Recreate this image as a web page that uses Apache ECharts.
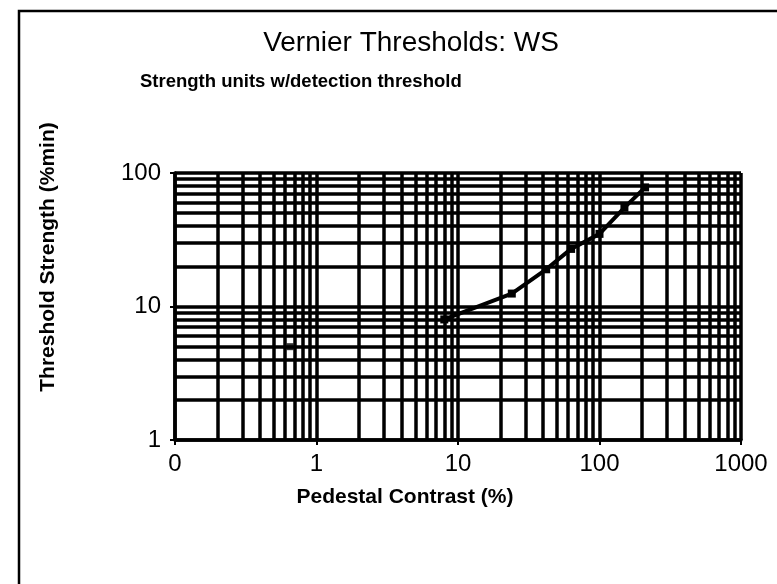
<!DOCTYPE html>
<html>
<head>
<meta charset="utf-8">
<script src="https://cdn.jsdelivr.net/npm/echarts@6/dist/echarts.min.js"></script>
<style>
    html, body { margin: 0; padding: 0; background: #fff; }
    #chart { width: 777px; height: 584px; }
</style>
</head>
<body>
<div id="chart"></div>
<script>
    // isolated low-contrast point
    var soloContrast = [0.65];
    var soloStrength = [5];
    // connected threshold curve
    var contrast = [8, 24, 42, 63, 100, 150, 210];
    var strength = [8, 12.5, 19, 27, 35, 55, 78];
    // minor grid positions (2..9 per decade)
    var xMinor = [0.2, 0.3, 0.4, 0.5, 0.6, 0.7, 0.8, 0.9,
        2, 3, 4, 5, 6, 7, 8, 9,
        20, 30, 40, 50, 60, 70, 80, 90,
        200, 300, 400, 500, 600, 700, 800, 900];
    var yMinor = [2, 3, 4, 5, 6, 7, 8, 9, 20, 30, 40, 50, 60, 70, 80, 90];

    var font = 'Liberation Sans, Arial, sans-serif';
    var gridLine = { color: '#000', width: 3.5, type: 'solid' };

    var minorLines = xMinor.map(function (v) { return { xAxis: v }; })
        .concat(yMinor.map(function (v) { return { yAxis: v }; }));

    var chart = echarts.init(document.getElementById('chart'), null, { renderer: 'canvas' });
    chart.setOption({
        backgroundColor: '#fff',
        animation: false,
        graphic: [{
            type: 'rect',
            shape: { x: 19, y: 11, width: 800, height: 620 },
            style: { fill: 'none', stroke: '#000', lineWidth: 2.5 }
        }, {
            // y axis name, sits above the plot's middle like the original
            type: 'text',
            x: 48, y: 257,
            rotation: Math.PI / 2,
            style: {
                text: 'Threshold Strength (%min)',
                fill: '#000',
                font: 'bold 21px ' + font,
                textAlign: 'center',
                textVerticalAlign: 'middle'
            }
        }, {
            type: 'text',
            x: 405, y: 497,
            style: {
                text: 'Pedestal Contrast (%)',
                fill: '#000',
                font: 'bold 21px ' + font,
                textAlign: 'center',
                textVerticalAlign: 'middle'
            }
        }],
        title: [{
            text: 'Vernier Thresholds: WS',
            left: 406, top: 24, textAlign: 'center',
            textStyle: { fontFamily: font, fontSize: 28, fontWeight: 'normal', color: '#000' }
        }, {
            text: 'Strength units w/detection threshold',
            left: 135, top: 67,
            textStyle: { fontFamily: font, fontSize: 18.5, fontWeight: 'bold', color: '#000' }
        }],
        grid: { left: 175, right: 36, top: 173, bottom: 144 },
        xAxis: {
            type: 'log', logBase: 10, min: 0.1, max: 1000,
            axisLine: { lineStyle: { color: '#000', width: 3.5 } },
            axisTick: { show: true, length: 5, lineStyle: { color: '#000', width: 2 } },
            axisLabel: {
                fontFamily: font, fontSize: 24, color: '#000', margin: 12,
                formatter: function (v) { return v < 1 ? '0' : String(Math.round(v)); }
            },
            splitLine: { show: true, lineStyle: gridLine }
        },
        yAxis: {
            type: 'log', logBase: 10, min: 1, max: 100,
            axisLine: { lineStyle: { color: '#000', width: 3.5 } },
            axisTick: { show: true, length: 5, lineStyle: { color: '#000', width: 2 } },
            axisLabel: { fontFamily: font, fontSize: 24, color: '#000', margin: 14 },
            splitLine: { show: true, lineStyle: gridLine }
        },
        series: [{
            type: 'line',
            data: [],
            silent: true,
            markLine: {
                silent: true,
                symbol: ['none', 'none'],
                label: { show: false },
                lineStyle: gridLine,
                data: minorLines
            }
        }, {
            type: 'scatter',
            data: soloContrast.map(function (c, i) { return [c, soloStrength[i]]; }),
            symbol: 'rect', symbolSize: 7,
            itemStyle: { color: '#000' }
        }, {
            type: 'line',
            data: contrast.map(function (c, i) { return [c, strength[i]]; }),
            symbol: 'rect', symbolSize: 8,
            lineStyle: { color: '#000', width: 4 },
            itemStyle: { color: '#000' }
        }]
    });
</script>
</body>
</html>
